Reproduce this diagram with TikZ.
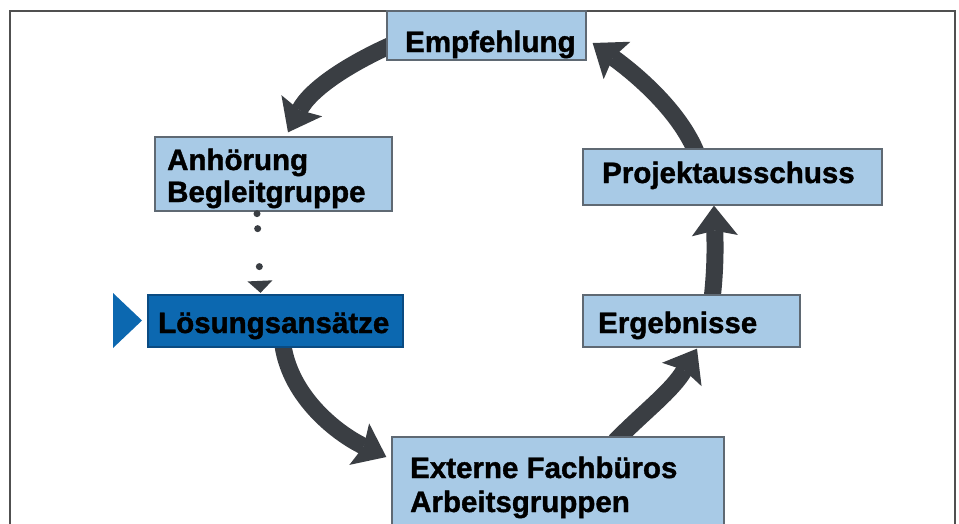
\documentclass[tikz,border=0pt]{standalone}
\usepackage{fontspec}
\setmainfont{Liberation Sans}[BoldFeatures={FakeBold=1.3}]
\usetikzlibrary{arrows.meta}
\definecolor{lightbox}{RGB}{168,202,230}
\definecolor{boxline}{RGB}{95,105,115}
\definecolor{darkbox}{RGB}{12,104,176}
\definecolor{darkline}{RGB}{10,75,130}
\definecolor{arrowc}{RGB}{58,62,67}
\definecolor{framec}{RGB}{80,80,80}
\pgfdeclarelayer{bg}
\pgfsetlayers{bg,main}
\tikzset{
  lbox/.style={rectangle, draw=boxline, line width=1.3pt, fill=lightbox, inner sep=0pt},
  dbox/.style={rectangle, draw=darkline, line width=1.3pt, fill=darkbox, inner sep=0pt},
  lbl/.style={anchor=base west, inner sep=0pt, text=black, font=\fontsize{29.5}{33}\selectfont\bfseries},
  flowarrow/.style={draw=arrowc, line width=17pt,
    -{Stealth[length=30pt,width=46pt,inset=5pt,line width=0pt]}},
  dotconn/.style={draw=arrowc, line width=7pt, line cap=round,
    dash pattern=on 0pt off 15pt on 0pt off 38pt on 0pt off 200pt,
    -{Triangle[length=12pt,width=25pt,line width=0pt]}}
}
\begin{document}
\begin{tikzpicture}[x=1pt,y=-1pt]
\useasboundingbox (0,0) rectangle (959,523);
\clip (0,0) rectangle (959,523);
% frame
\draw[framec, line width=1.6pt] (10,540) -- (10,11) -- (955,11) -- (955,540);

% boxes
\node[lbox, minimum width=199pt, minimum height=49pt] (emp) at (486.5,35.5) {};
\node[lbox, minimum width=237pt, minimum height=74pt] (anh) at (273.5,174) {};
\node[dbox, minimum width=255pt, minimum height=52pt] (los) at (275.5,321) {};
\node[lbox, minimum width=299pt, minimum height=56pt] (pro) at (732.5,177) {};
\node[lbox, minimum width=217pt, minimum height=52pt] (erg) at (691.5,321) {};
\node[lbox, minimum width=332pt, minimum height=108pt] (ext) at (558,491) {};

% marker triangle
\fill[darkbox] (113,293) -- (142,320.5) -- (113,348) -- cycle;

% texts
\node[lbl] (empt) at (405,52) {Empfehlung};
\node[lbl] (anht1) at (167,170) {Anhörung};
\node[lbl] (anht2) at (167,202) {Begleitgruppe};
\node[lbl] (lost) at (158,333) {Lösungsansätze};
\node[lbl] (prot) at (602,183) {Projektausschuss};
\node[lbl] (ergt) at (598,333) {Ergebnisse};
\node[lbl] (extt1) at (410,478) {Externe Fachbüros};
\node[lbl] (extt2) at (410,512) {Arbeitsgruppen};

% connectors
\begin{pgfonlayer}{bg}
\draw[flowarrow] ([shift={(5,9.5)}]emp.west) .. controls (351,63) and (311,88) .. ([shift={(14.5,-4)}]anh.north);
\draw[flowarrow] ([shift={(7.5,-2)}]los.south) .. controls (291,398) and (338,434) .. ([shift={(-5,-34)}]ext.west);
\draw[flowarrow] ([shift={(57,5)}]ext.north) .. controls (646,410) and (672,391) .. ([shift={(5.5,1)}]erg.south);
\draw[flowarrow] ([shift={(20.5,5)}]erg.north) .. controls (716,265) and (715,240) .. ([shift={(-18.5,0)}]pro.south);
\draw[flowarrow] ([shift={(-35.5,6)}]pro.north) .. controls (679,108) and (629,69) .. ([shift={(6,7.5)}]emp.east);
\end{pgfonlayer}
\draw[dotconn] ([shift={(-16.5,2)}]anh.south) -- ([shift={(-15,-1.5)}]los.north);
\end{tikzpicture}
\end{document}
